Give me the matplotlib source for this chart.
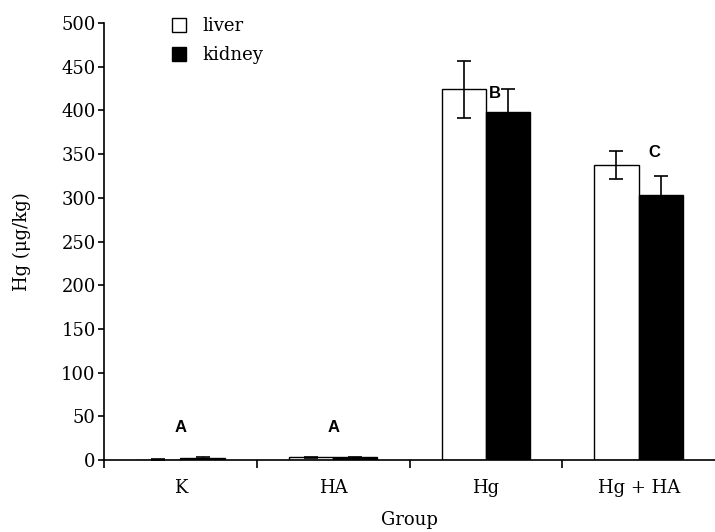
import numpy as np
import matplotlib
matplotlib.use("Agg")
import matplotlib.pyplot as plt

groups = ["K", "HA", "Hg", "Hg + HA"]
liver = [0.5, 3, 424, 337]
kidney = [2, 3, 398, 303]
liver_err = [0.5, 1, 33, 16]
kidney_err = [1, 1, 26, 22]
letters = ["A", "A", "B", "C"]
letter_y = [37, 37, 419, 352]
letter_dx = [0, 0, 0.06, 0.1]

plt.rcParams['font.family'] = ['DejaVu Serif']

fig = plt.figure(figsize=(7.15, 5.32), dpi=100)
ax = fig.add_axes([0.1455, 0.1353, 0.8545, 0.8215])

x = np.arange(len(groups))
w = 0.29
ax.bar(x - w/2, liver, w, color="white", edgecolor="black", linewidth=1.0,
       yerr=liver_err, capsize=5, error_kw=dict(elinewidth=1.2, capthick=1.2), label="liver")
ax.bar(x + w/2, kidney, w, color="black", edgecolor="black", linewidth=1.0,
       yerr=kidney_err, capsize=5, error_kw=dict(elinewidth=1.2, capthick=1.2), label="kidney")

for i in range(len(groups)):
    ax.text(x[i] + letter_dx[i], letter_y[i], letters[i], ha="center", va="center",
            fontsize=12, fontweight="bold", family="Liberation Sans")

ax.set_xlim(-0.5, 3.5)
ax.set_ylim(0, 500)
ax.set_yticks(np.arange(0, 501, 50))
ax.set_xticks(x)
ax.set_xticklabels(groups)
ax.set_xticks([-0.5, 0.5, 1.5, 2.5], minor=True)
ax.tick_params(axis="x", which="major", length=0, pad=14, labelsize=13)
ax.tick_params(axis="x", which="minor", length=6, width=1.2, direction="out")
ax.tick_params(axis="y", length=4, width=1.2, labelsize=13, pad=2)
ax.spines["top"].set_visible(False)
ax.spines["right"].set_visible(False)
ax.spines["left"].set_linewidth(1.2)
ax.spines["bottom"].set_linewidth(1.2)

ax.set_ylabel("Hg (μg/kg)", fontsize=13, labelpad=22)
ax.set_xlabel("Group", fontsize=13, labelpad=10)

ax.legend(loc="upper left", bbox_to_anchor=(0.085, 1.05), frameon=False, fontsize=13,
          handlelength=0.75, handleheight=0.75, handletextpad=0.9, labelspacing=0.6)

fig.savefig("out.png", dpi=100)
